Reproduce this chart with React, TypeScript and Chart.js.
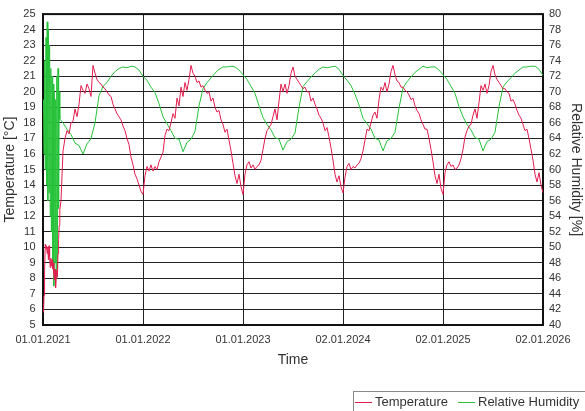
import { useEffect, useRef } from "react";
import { Chart, registerables } from "chart.js";

Chart.register(...registerables);

// Axis labels of the time axis (one per year boundary)
const xTickLabels = ["01.01.2021", "01.01.2022", "01.01.2023", "02.01.2024", "02.01.2025", "02.01.2026"];

// Start-up phase (positions in years after 01.01.2021)
const startupX = [0.005, 0.01, 0.016, 0.023, 0.03, 0.036, 0.042, 0.048, 0.054, 0.06, 0.066, 0.072, 0.078, 0.084,
  0.09, 0.096, 0.102, 0.108, 0.114, 0.12, 0.126, 0.132, 0.138, 0.144, 0.15, 0.156, 0.162, 0.168];
const startupTemp = [5.8, 6.9, 8.5, 10.2, 9.9, 10.1, 9.6, 10.0, 9.2, 10.1, 9.4, 8.7, 9.3, 8.8,
  9.2, 8.6, 9.0, 8.3, 7.9, 8.6, 7.4, 8.0, 8.5, 8.1, 9.6, 10.5, 11.4, 12.4];
const startupHum = [69, 62, 74, 60, 77, 58, 79, 56, 78, 57, 76, 54, 73, 52,
  72, 48, 71, 45, 70, 48, 69, 46, 72, 47, 73, 55, 70, 66.5];

// Temperature [°C], 50 samples per year; 2021 begins at sample 9
const tempPerYear = 50;
const temp2021Start = 9;
const temp2021 = [13.0, 16.2, 17.0, 17.5, 17.3, 18.0, 18.1, 18.9, 18.4, 19.2, 20.4, 20.1, 19.9, 20.5, 20.2, 19.7,
  21.7, 21.2, 20.8, 20.6, 20.5, 20.3, 20.2, 20.0, 19.8, 19.7, 19.2, 18.9, 18.6, 18.4, 18.2, 17.8, 17.5, 17.0,
  16.6, 15.8, 15.3, 14.7, 14.4, 14.0, 13.6];
const temp2022 = [13.4, 14.6, 15.2, 14.9, 15.3, 14.9, 15.2, 15.0, 15.5, 15.8, 16.1, 17.2, 17.6, 17.5, 18.0, 18.6,
  18.3, 19.6, 19.1, 20.3, 19.7, 20.6, 20.1, 20.8, 21.7, 21.2, 21.0, 20.6, 20.7, 20.3, 20.4, 20.1, 19.9, 20.0,
  19.4, 19.6, 19.0, 18.7, 18.8, 18.2, 17.9, 17.4, 17.6, 16.9, 16.2, 15.4, 14.6, 14.1, 14.7, 13.9];
const temp2023 = [13.4, 14.7, 15.3, 15.5, 15.1, 15.3, 15.0, 15.2, 15.3, 15.6, 16.3, 17.0, 17.5, 17.7, 17.9, 18.4,
  18.9, 18.2, 19.4, 20.5, 20.0, 20.5, 19.9, 20.4, 21.2, 21.6, 21.0, 20.8, 20.6, 20.4, 20.2, 20.3, 20.0, 20.0,
  19.4, 19.6, 19.2, 18.9, 18.5, 18.3, 18.0, 17.5, 17.7, 17.1, 16.4, 15.6, 14.7, 14.2, 14.6, 13.9];
const temp2024 = [13.5, 14.5, 15.2, 15.4, 15.0, 15.2, 15.1, 15.3, 15.4, 15.7, 16.2, 16.9, 17.6, 17.5, 18.0, 18.5,
  18.7, 18.3, 19.5, 20.3, 20.1, 20.6, 20.0, 20.5, 21.3, 21.7, 21.1, 20.7, 20.6, 20.3, 20.3, 20.1, 20.0, 19.8,
  19.5, 19.6, 19.1, 18.8, 18.6, 18.2, 17.9, 17.6, 17.6, 17.0, 16.3, 15.5, 14.6, 14.1, 14.7, 13.8];
const temp2025 = [13.4, 14.8, 15.3, 15.5, 15.2, 15.3, 15.0, 15.1, 15.3, 15.7, 16.3, 17.1, 17.5, 17.8, 17.9, 18.5,
  18.9, 18.3, 19.3, 20.4, 20.1, 20.5, 19.9, 20.4, 21.3, 21.7, 21.1, 20.8, 20.6, 20.4, 20.2, 20.2, 20.0, 19.9,
  19.4, 19.5, 19.2, 18.8, 18.5, 18.3, 17.9, 17.5, 17.6, 17.0, 16.3, 15.6, 14.7, 14.2, 14.8, 14.0];
const tempLast = 13.5;

// Relative humidity [%], 25 samples per year; 2021 begins at sample 5
const humPerYear = 25;
const hum2021Start = 5;
const hum2021 = [66.0, 65.2, 64.5, 63.4, 63.1, 62.0, 63.3, 64.0, 66.0, 69.5, 70.7, 71.2, 72.0, 72.6, 73.0, 73.2,
  73.1, 73.3, 73.2, 72.8];
const hum2022 = [72.0, 71.5, 70.6, 69.9, 68.5, 66.8, 65.9, 65.0, 64.0, 63.9, 62.3, 63.5, 63.9, 64.9, 68.2, 70.4,
  71.2, 71.8, 72.4, 72.9, 73.2, 73.2, 73.3, 73.2, 72.8];
const hum2023 = [72.2, 71.6, 70.7, 69.8, 68.2, 66.7, 65.8, 65.1, 64.1, 63.9, 62.5, 63.6, 63.9, 64.7, 68.0, 70.7,
  71.3, 71.9, 72.4, 72.9, 73.2, 73.1, 73.2, 73.3, 72.9];
const hum2024 = [72.1, 71.5, 70.8, 69.7, 68.3, 66.6, 65.9, 65.2, 64.0, 63.8, 62.4, 63.7, 64.0, 64.8, 67.9, 70.5,
  71.3, 71.9, 72.5, 72.9, 73.3, 73.1, 73.2, 73.2, 72.8];
const hum2025 = [72.2, 71.6, 70.7, 69.8, 68.1, 66.8, 65.8, 65.1, 64.1, 63.9, 62.4, 63.6, 63.9, 64.8, 68.1, 70.6,
  71.3, 71.8, 72.4, 72.8, 73.2, 73.2, 73.3, 73.3, 72.9];
const humLast = 72.1;

const RED = "#e31c4e";
const GREEN = "#27c23a";
const FONT = "'Liberation Sans', Arial, sans-serif";
const TEXT = "#333333";

type Pt = { x: number; y: number };

function yearPoints(year: number, values: number[], perYear: number, first = 0): Pt[] {
  return values.map((v, i) => ({ x: year + (first + i) / perYear, y: v }));
}

function buildTemperature(): Pt[] {
  const pts: Pt[] = startupX.map((x, i) => ({ x, y: startupTemp[i] }));
  pts.push(...yearPoints(0, temp2021, tempPerYear, temp2021Start));
  pts.push(...yearPoints(1, temp2022, tempPerYear));
  pts.push(...yearPoints(2, temp2023, tempPerYear));
  pts.push(...yearPoints(3, temp2024, tempPerYear));
  pts.push(...yearPoints(4, temp2025, tempPerYear));
  pts.push({ x: 5, y: tempLast });
  return pts;
}

function buildHumidity(): Pt[] {
  const pts: Pt[] = startupX.map((x, i) => ({ x, y: startupHum[i] }));
  pts.push(...yearPoints(0, hum2021, humPerYear, hum2021Start));
  pts.push(...yearPoints(1, hum2022, humPerYear));
  pts.push(...yearPoints(2, hum2023, humPerYear));
  pts.push(...yearPoints(3, hum2024, humPerYear));
  pts.push(...yearPoints(4, hum2025, humPerYear));
  pts.push({ x: 5, y: humLast });
  return pts;
}

// Dark frame around the plotting area
const frame = {
  id: "frame",
  beforeDatasetsDraw(chart: Chart) {
    const { ctx, chartArea: a } = chart;
    ctx.save();
    ctx.strokeStyle = "#111111";
    ctx.lineWidth = 2;
    ctx.strokeRect(a.left, a.top, a.right - a.left, a.bottom - a.top);
    ctx.restore();
  },
};

export default function App() {
  const canvasRef = useRef<HTMLCanvasElement>(null);

  useEffect(() => {
    const chart = new Chart(canvasRef.current!, {
      type: "line",
      data: {
        datasets: [
          {
            label: "Temperature",
            data: buildTemperature(),
            borderColor: RED,
            borderWidth: 1,
            pointRadius: 0,
            tension: 0,
            yAxisID: "y",
          },
          {
            label: "Relative Humidity",
            data: buildHumidity(),
            borderColor: GREEN,
            borderWidth: 1,
            pointRadius: 0,
            tension: 0,
            yAxisID: "y1",
          },
        ],
      },
      options: {
        animation: false,
        responsive: false,
        maintainAspectRatio: false,
        layout: { padding: { top: 12, left: 0, right: 0, bottom: 0 } },
        plugins: { legend: { display: false }, tooltip: { enabled: false } },
        scales: {
          x: {
            type: "linear",
            min: 0,
            max: 5,
            afterFit: (s: any) => { s.height = 86; },
            ticks: {
              stepSize: 1,
              autoSkip: false,
              maxRotation: 0,
              padding: 8,
              color: TEXT,
              font: { family: FONT, size: 11 },
              callback: (v: any) => xTickLabels[Math.round(Number(v))] ?? "",
            },
            grid: { color: "#222222", lineWidth: 1, drawTicks: false },
            border: { display: false },
            title: {
              display: true,
              text: "Time",
              color: TEXT,
              font: { family: FONT, size: 14 },
              padding: { top: 0, bottom: 42.6 },
            },
          },
          y: {
            position: "left",
            min: 5,
            max: 25,
            afterFit: (s: any) => { s.width = 43; },
            ticks: {
              stepSize: 1,
              autoSkip: false,
              padding: 7.5,
              color: TEXT,
              font: { family: FONT, size: 11 },
            },
            grid: { color: "#222222", lineWidth: 1, drawTicks: false },
            border: { display: false },
            title: {
              display: true,
              text: "Temperature [°C]",
              color: TEXT,
              font: { family: FONT, size: 14 },
              padding: { top: 1.6, bottom: 0 },
            },
          },
          y1: {
            position: "right",
            min: 40,
            max: 80,
            afterFit: (s: any) => { s.width = 42; },
            ticks: {
              stepSize: 2,
              autoSkip: false,
              padding: 6,
              color: TEXT,
              font: { family: FONT, size: 11 },
            },
            grid: { drawOnChartArea: false, drawTicks: false },
            border: { display: false },
            title: {
              display: true,
              text: "Relative Humidity [%]",
              color: TEXT,
              font: { family: FONT, size: 14 },
              padding: { top: 0.6, bottom: 0 },
            },
          },
        },
      },
      plugins: [frame],
    });
    return () => chart.destroy();
  }, []);

  const legendText: React.CSSProperties = {
    position: "absolute",
    top: 394,
    fontFamily: FONT,
    fontSize: 13,
    lineHeight: "16px",
    color: TEXT,
    whiteSpace: "nowrap",
  };
  const legendLine = (left: number, color: string): React.CSSProperties => ({
    position: "absolute",
    left,
    top: 402,
    width: 17,
    height: 1,
    background: color,
  });

  return (
    <div style={{ position: "fixed", left: 0, top: 0, width: 585, height: 411, overflow: "hidden", background: "#fff" }}>
      <canvas ref={canvasRef} width={585} height={411} style={{ display: "block" }} />
      <div
        style={{
          position: "absolute",
          left: 353,
          top: 391,
          width: 260,
          height: 30,
          border: "1px solid #8a8a8a",
          boxSizing: "border-box",
        }}
      />
      <div style={legendLine(355, RED)} />
      <div style={{ ...legendText, left: 375 }}>Temperature</div>
      <div style={legendLine(458, GREEN)} />
      <div style={{ ...legendText, left: 478 }}>Relative Humidity</div>
    </div>
  );
}
